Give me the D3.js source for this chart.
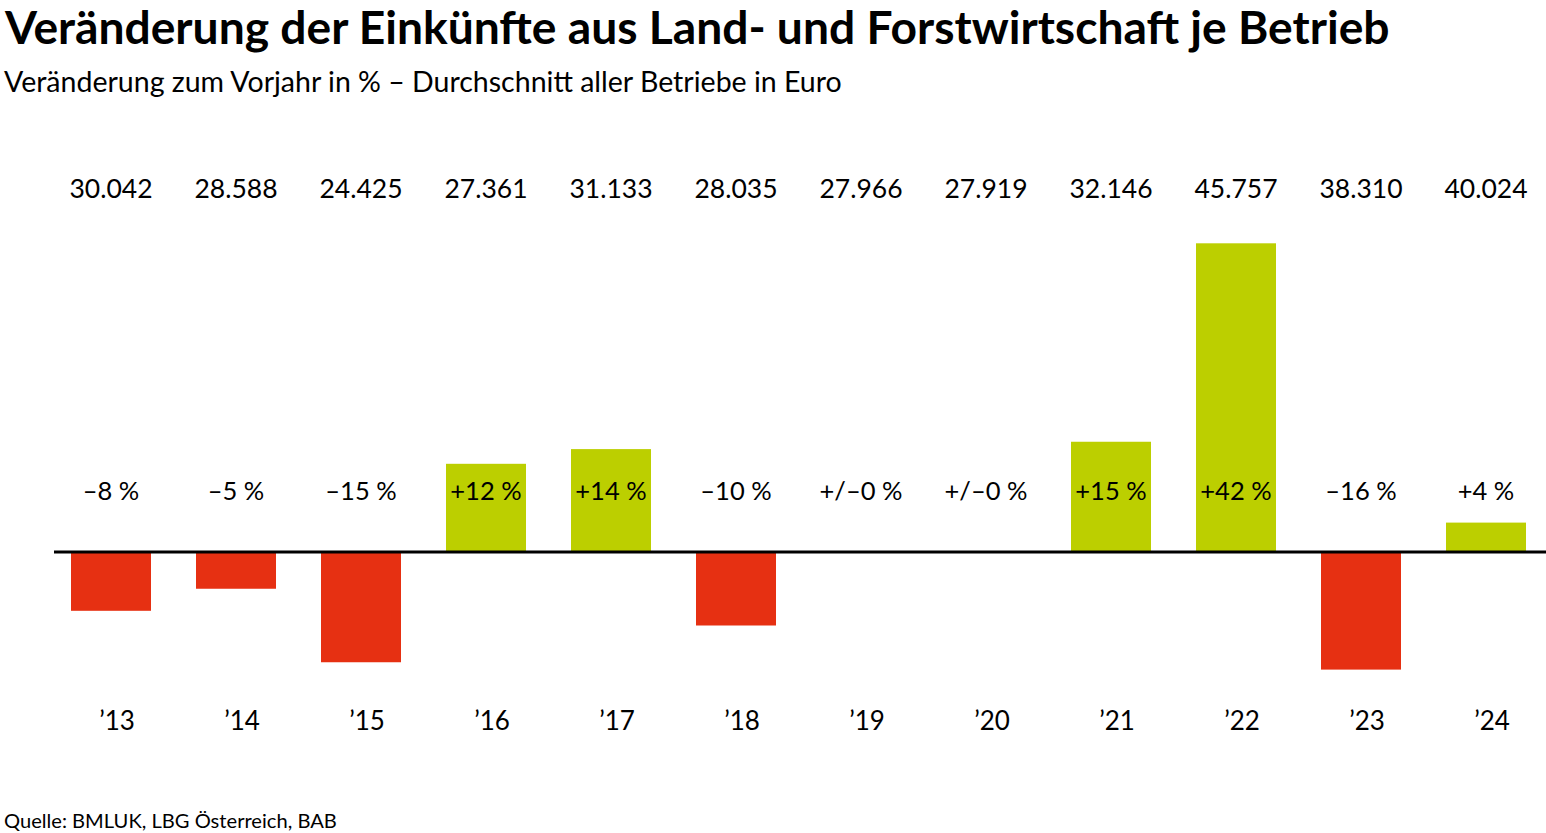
<!DOCTYPE html>
<html><head><meta charset="utf-8">
<script src="https://cdn.jsdelivr.net/npm/d3@7"></script>
<style>body{margin:0;background:#fff}svg{display:block}text{font-family:Lato,"Open Sans",sans-serif;fill:#000}</style>
</head><body><svg id="c" width="1546" height="833"></svg>
<script>
const years = ["’13","’14","’15","’16","’17","’18","’19","’20","’21","’22","’23","’24"];
const incomes = ["30.042","28.588","24.425","27.361","31.133","28.035","27.966","27.919","32.146","45.757","38.310","40.024"];
const changes = [-8,-5,-15,12,14,-10,0,0,15,42,-16,4];
const changeLabels = ["–8 %","–5 %","–15 %","+12 %","+14 %","–10 %","+/–0 %","+/–0 %","+15 %","+42 %","–16 %","+4 %"];
const title = "Veränderung der Einkünfte aus Land- und Forstwirtschaft je Betrieb";
const subtitle = "Veränderung zum Vorjahr in % – Durchschnitt aller Betriebe in Euro";
const source = "Quelle: BMLUK, LBG Österreich, BAB";

const svg = d3.select("#c");
const RED = "#e63012", GREEN = "#bccf00";

function fitText(sel, target){
  const n = sel.node(); const w = n.getComputedTextLength();
  const fs = parseFloat(sel.attr("font-size"));
  sel.attr("font-size", fs*target/w);
}

fitText(svg.append("text").attr("x",5).attr("y",44).attr("font-size",40).attr("font-weight",700).text(title), 1385);
fitText(svg.append("text").attr("x",4).attr("y",92).attr("font-size",26).text(subtitle), 838);
fitText(svg.append("text").attr("x",4).attr("y",828).attr("font-size",19).text(source), 333);

const x = d3.scaleBand().domain(years).range([48.5,1548.5]).paddingInner(0.36).paddingOuter(0.18);
const y = d3.scaleLinear().domain([-20,45]).range([699,221.25]);

svg.append("g").selectAll("rect").data(changes).join("rect")
  .attr("x",(d,i)=>x(years[i]))
  .attr("width",x.bandwidth())
  .attr("y",d=>y(Math.max(0,d)))
  .attr("height",d=>Math.abs(y(d)-y(0)))
  .attr("fill",d=>d>=0?GREEN:RED);

svg.append("line").attr("x1",54).attr("x2",1546).attr("y1",y(0)).attr("y2",y(0))
  .attr("stroke","#000").attr("stroke-width",3);

const cx = i => x(years[i]) + x.bandwidth()/2;

svg.append("g").selectAll("text").data(incomes).join("text")
  .attr("x",(d,i)=>cx(i)).attr("y",198).attr("text-anchor","middle").attr("font-size",26.5).text(d=>d);

svg.append("g").selectAll("text").data(changeLabels).join("text")
  .attr("x",(d,i)=>cx(i)).attr("y",500).attr("text-anchor","middle").attr("font-size",25.5).text(d=>d);

const xAxis = d3.axisBottom(x).tickSize(0).tickPadding(0);
const ax = svg.append("g").attr("transform","translate(0,712)").call(xAxis);
ax.select(".domain").remove();
ax.selectAll("text").attr("font-size",26).attr("dy","0.71em").attr("dx","6");
</script></body></html>
